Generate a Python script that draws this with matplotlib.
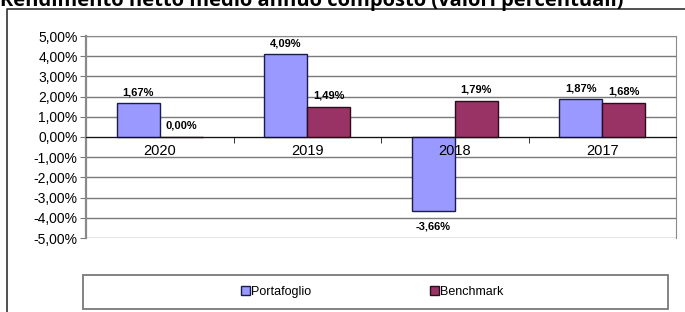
import matplotlib
matplotlib.use('Agg')
import matplotlib.pyplot as plt
from matplotlib.patches import Rectangle
from matplotlib.lines import Line2D
from matplotlib.ticker import FuncFormatter
import numpy as np

# data
years = ['2020', '2019', '2018', '2017']
portafoglio = [1.67, 4.09, -3.66, 1.87]
benchmark = [0.00, 1.49, 1.79, 1.68]
series_names = ['Portafoglio', 'Benchmark']
title = 'Rendimento netto medio annuo composto (valori percentuali)'

plt.rcParams['font.family'] = ['Liberation Sans', 'DejaVu Sans']

W, H = 685, 312
fig = plt.figure(figsize=(W / 100, H / 100), dpi=100)
ax = fig.add_axes([86 / W, 1 - 238 / H, (676 - 86) / W, (238 - 36) / H])

x = np.arange(len(years))
bw = 0.29
b1 = ax.bar(x - bw / 2, portafoglio, bw, color='#9999FF', edgecolor='#1c1c4a', lw=1, zorder=3)
b2 = ax.bar(x + bw / 2, benchmark, bw, color='#993366', edgecolor='#2a0c1c', lw=1, zorder=3)

def fmt(v):
    return f'{v:.2f}%'.replace('.', ',')

for bars, vals in [(b1, portafoglio), (b2, benchmark)]:
    for r, v in zip(bars, vals):
        cx = r.get_x() + r.get_width() / 2
        off = 8 if v >= 0 else -11
        ax.annotate(fmt(v), (cx, v), xytext=(0, off), textcoords='offset points',
                    ha='center', va='center', fontsize=8, fontweight='bold', zorder=4)

ax.set_xlim(-0.5, len(years) - 0.5)
ax.set_ylim(-5, 5)
ax.set_yticks(np.arange(-5, 6, 1))
ax.yaxis.set_major_formatter(FuncFormatter(lambda v, p: fmt(v)))
ax.grid(axis='y', color='#7a7a7a', lw=1, zorder=1)
ax.tick_params(axis='y', length=4, color='#7a7a7a', labelsize=10, pad=2)

ax.spines['bottom'].set_position(('data', 0))
ax.spines['bottom'].set_color('#111111')
ax.spines['bottom'].set_zorder(5)
for s in ['left', 'top', 'right']:
    ax.spines[s].set_color('#8a8a8a')
ax.spines['left'].set_linewidth(1.6)
ax.set_xticks(x)
ax.set_xticklabels(years)
ax.set_xticks(x[:-1] + 0.5, minor=True)
ax.tick_params(axis='x', which='major', length=0, pad=5, labelsize=10.5)
ax.tick_params(axis='x', which='minor', length=4, color='#111111', direction='out')
ax.xaxis.set_zorder(6)

# legend box and outer frame
fig.patches.append(Rectangle((83 / W, 1 - 309 / H), (668 - 83) / W, (309 - 275) / H,
                             transform=fig.transFigure, fill=False, edgecolor='#7a7a7a', lw=1.3))
fig.legend([b1, b2], series_names, loc='center', bbox_to_anchor=(372 / W, 1 - 292 / H),
           ncol=2, frameon=False, fontsize=9, handlelength=0.7, handleheight=0.7,
           handletextpad=0.1, columnspacing=9.5)
fig.lines.append(Line2D([7 / W, 7 / W, 1], [0, 1 - 9 / H, 1 - 9 / H],
                        transform=fig.transFigure, color='#333333', lw=1.2))

fig.text(0, 1 - 6 / H, title, fontsize=14.5, fontweight='bold', ha='left', va='baseline',
         family=['Open Sans', 'DejaVu Sans'])

fig.savefig('out.png', dpi=100)
